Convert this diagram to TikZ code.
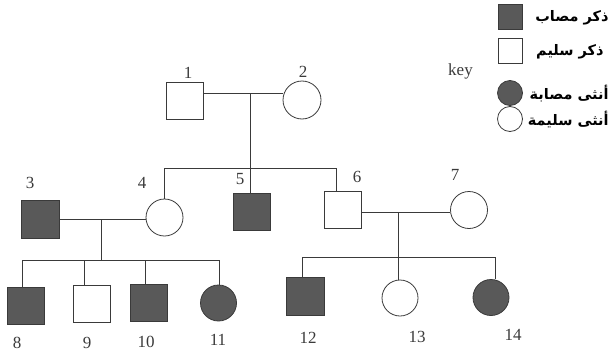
\documentclass[tikz,border=0pt]{standalone}
\usepackage{fontspec}
\setmainfont{Liberation Serif}
\newfontfamily\arabicfont[Script=Arabic]{DejaVu Sans}
\TeXXeTstate=1
\definecolor{affect}{HTML}{595959}
\definecolor{ink}{HTML}{3A3A3A}
\begin{document}
\begin{tikzpicture}[x=1pt,y=-1pt,
  line width=0.8pt, draw=ink,
  male/.style={rectangle,draw=ink,line width=0.8pt,minimum size=37pt,inner sep=0pt},
  female/.style={circle,draw=ink,line width=0.8pt,minimum size=37pt,inner sep=0pt},
  aff/.style={fill=affect},
  num/.style={font=\fontsize{17}{17}\selectfont,inner sep=0pt,text=ink},
  lmale/.style={rectangle,draw=ink,line width=0.8pt,minimum size=24.5pt,inner sep=0pt},
  lfemale/.style={circle,draw=ink,line width=0.8pt,minimum size=25pt,inner sep=0pt},
  ar/.style={font=\arabicfont\bfseries\fontsize{14.5}{14.5}\selectfont,inner sep=0pt,anchor=east}
]
\useasboundingbox (0,0) rectangle (610,356);
% generation 1
\node[male] (i1) at (184.5,100.5) {};
\node[female,minimum size=38pt] (i2) at (302,100) {};
% generation 2
\node[male,aff,minimum size=38pt] (i3) at (40,219) {};
\node[female] (i4) at (164.5,217.5) {};
\node[male,aff] (i5) at (252,211.5) {};
\node[male] (i6) at (343,209.5) {};
\node[female] (i7) at (469,210) {};
% generation 3
\node[male,aff] (i8) at (26,305.5) {};
\node[male] (i9) at (91.5,303.5) {};
\node[male,aff] (i10) at (148.5,303) {};
\node[female,aff,minimum size=36pt] (i11) at (218.5,303) {};
\node[male,aff,minimum size=38pt] (i12) at (305,296) {};
\node[female,minimum size=36pt] (i13) at (400,298) {};
\node[female,aff,minimum size=36pt] (i14) at (491,297.5) {};
% labels
\node[num] (n1) at (188,73) {1};
\node[num] (n2) at (303,72) {2};
\node[num] (n3) at (30,183) {3};
\node[num] (n4) at (142,183) {4};
\node[num] (n5) at (240,179) {5};
\node[num] (n6) at (357,177) {6};
\node[num] (n7) at (455,175) {7};
\node[num] (n8) at (17,343) {8};
\node[num] (n9) at (87,343) {9};
\node[num] (n10) at (146,342) {10};
\node[num] (n11) at (218,340) {11};
\node[num] (n12) at (308,338) {12};
\node[num] (n13) at (417,337) {13};
\node[num] (n14) at (513,335) {14};
% junction coordinates
\coordinate (m12) at (250,93);
\coordinate (s1) at (250,168);
\coordinate (d4) at (164.5,168);
\coordinate (d6) at (336,168);
\coordinate (m34) at (101,219);
\coordinate (s2) at (101,260);
\coordinate (d8) at (22,260);
\coordinate (d9) at (84,260);
\coordinate (d10) at (145,260);
\coordinate (d11) at (219,260);
\coordinate (m67) at (398,212);
\coordinate (s3) at (398,257);
\coordinate (d12) at (302,257);
\coordinate (d13) at (398,257);
\coordinate (d14) at (495,257);
% connectors
\draw[ink] (m12 -| i1.east) -- (m12 -| i2.west);
\draw[ink] (m12) -- (s1);
\draw[ink] (d4) -- (d6);
\draw[ink] (d4) -- (i4.north);
\draw[ink] (s1) -- (s1 |- i5.north);
\draw[ink] (d6) -- (d6 |- i6.north);
\draw[ink] (i3.east) -- (i3.east -| i4.west);
\draw[ink] (m34) -- (s2);
\draw[ink] (d8) -- (d11);
\draw[ink] (d8) -- (d8 |- i8.north);
\draw[ink] (d9) -- (d9 |- i9.north);
\draw[ink] (d10) -- (d10 |- i10.north);
\draw[ink] (d11) -- (d11 |- i11.north);
\draw[ink] (m67 -| i6.east) -- (m67 -| i7.west);
\draw[ink] (m67) -- (s3);
\draw[ink] (d12) -- (d14);
\draw[ink] (d12) -- (d12 |- i12.north);
\draw[ink] (d13) -- (d13 |- i13.north);
\draw[ink] (d14) -- (d14 |- i14.north);
% key
\node[lmale,aff] (k1) at (510.5,17) {};
\node[lmale] (k2) at (510.5,51) {};
\node[lfemale,aff] (k3) at (510,93) {};
\node[lfemale] (k4) at (510,119) {};
\node[num] (key) at (460.5,71) {key};
\node[ar] (t1) at (609,18) {\beginR ذكر مصاب\endR};
\node[ar] (t2) at (604,52) {\beginR ذكر سليم\endR};
\node[ar] (t3) at (609,94) {\beginR أنثى مصابة\endR};
\node[ar] (t4) at (609,120) {\beginR أنثى سليمة\endR};
\end{tikzpicture}
\end{document}
